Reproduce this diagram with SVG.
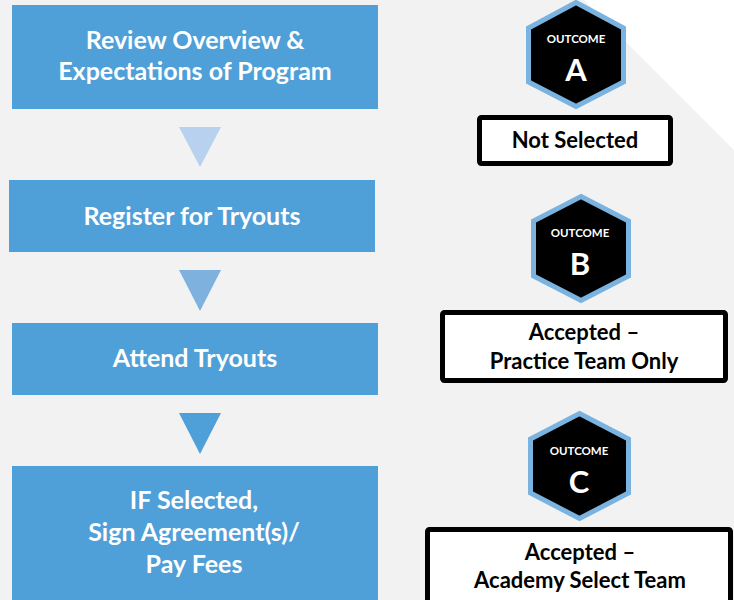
<svg xmlns="http://www.w3.org/2000/svg" width="734" height="600" viewBox="0 0 734 600">
<style>
.step{fill:#4f9fd8}
.steptxt{font-family:Lato,"Open Sans",sans-serif;font-weight:bold;font-size:25px;fill:#fff;text-anchor:middle}
.hex{fill:#000;stroke:#7ab2e0;stroke-width:5;stroke-linejoin:miter}
.oc{font-family:Lato,"Open Sans",sans-serif;font-weight:bold;font-size:11.5px;fill:#fff;text-anchor:middle}
.letter{font-family:Lato,"Open Sans",sans-serif;font-weight:bold;font-size:31px;fill:#fff;text-anchor:middle}
.res{fill:#fff;stroke:#000;stroke-width:5}
.restxt{font-family:Lato,"Open Sans",sans-serif;font-weight:bold;font-size:22px;fill:#000;text-anchor:middle}
</style>
<rect x="0" y="0" width="734" height="600" fill="#f2f2f2"/>
<polygon points="584,0 734,0 734,150" fill="#ffffff"/>
<g id="connectors">
<polygon points="179,127 221,127 200,167" fill="#b8d1ee"/>
<polygon points="179,270 221,270 200,311" fill="#7fb1df"/>
<polygon points="179,413 221,413 200,454" fill="#4f9fd8"/>
</g>
<g id="step1">
<rect class="step" x="12" y="5" width="366" height="104"/>
<text class="steptxt" x="195" y="49">Review Overview &amp;</text>
<text class="steptxt" x="195" y="80">Expectations of Program</text>
</g>
<g id="step2">
<rect class="step" x="9" y="180" width="366" height="72"/>
<text class="steptxt" x="192" y="225">Register for Tryouts</text>
</g>
<g id="step3">
<rect class="step" x="12" y="323" width="366" height="72"/>
<text class="steptxt" x="195" y="367">Attend Tryouts</text>
</g>
<g id="step4">
<rect class="step" x="12" y="466" width="366" height="140"/>
<text class="steptxt" x="194" y="509">IF Selected,</text>
<text class="steptxt" x="194" y="541">Sign Agreement(s)/</text>
<text class="steptxt" x="194" y="573">Pay Fees</text>
</g>
<g id="outcomeA">
<polygon class="hex" points="576,2.5 623.5,28 623.5,82 576,106.5 528.5,82 528.5,28"/>
<text class="oc" x="576" y="43">OUTCOME</text>
<text class="letter" x="576" y="81">A</text>
</g>
<g id="resultA">
<rect class="res" x="479.5" y="117.5" width="191" height="46" rx="2"/>
<text class="restxt" x="575" y="148">Not Selected</text>
</g>
<g id="outcomeB">
<polygon class="hex" points="581,196.5 628.5,221 628.5,276 581,300.5 533.5,276 533.5,221"/>
<text class="oc" x="580" y="237">OUTCOME</text>
<text class="letter" x="580" y="275">B</text>
</g>
<g id="resultB">
<rect class="res" x="442.5" y="312.5" width="283" height="68" rx="2"/>
<text class="restxt" x="584" y="340">Accepted –</text>
<text class="restxt" x="584" y="369">Practice Team Only</text>
</g>
<g id="outcomeC">
<polygon class="hex" points="579.5,413.5 628.5,439 628.5,493 579.5,518.5 530.5,493 530.5,439"/>
<text class="oc" x="579" y="455">OUTCOME</text>
<text class="letter" x="579" y="493">C</text>
</g>
<g id="resultC">
<rect class="res" x="427.5" y="529.5" width="303" height="80" rx="2"/>
<text class="restxt" x="580" y="560">Accepted –</text>
<text class="restxt" x="580" y="588">Academy Select Team</text>
</g>
</svg>
